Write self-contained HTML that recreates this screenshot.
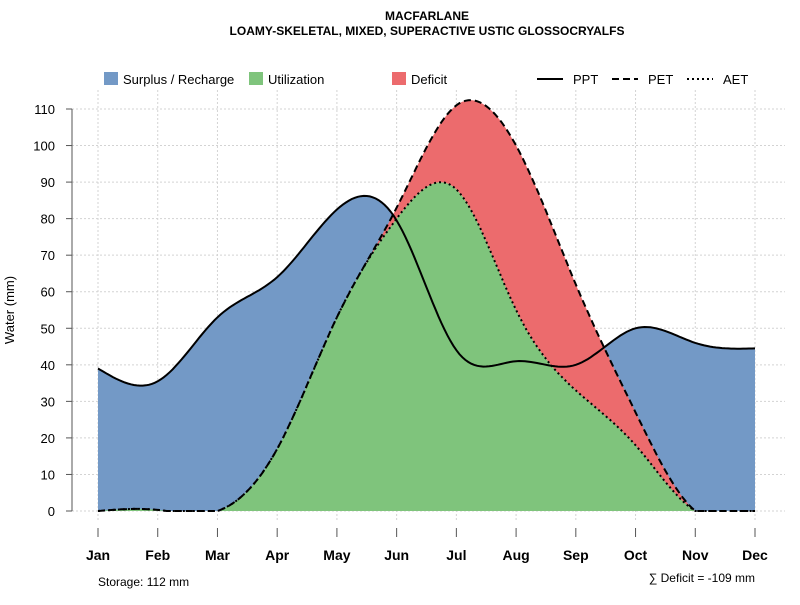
<!DOCTYPE html>
<html><head><meta charset="utf-8"><style>
body{margin:0;background:#fff;font-family:"Liberation Sans",sans-serif}
svg text{font-family:"Liberation Sans",sans-serif}
</style></head><body>
<svg id="c" width="800" height="600">
<text x="427" y="20" text-anchor="middle" font-size="12" font-weight="bold">MACFARLANE</text>
<text x="427" y="35" text-anchor="middle" font-size="12" font-weight="bold">LOAMY-SKELETAL, MIXED, SUPERACTIVE USTIC GLOSSOCRYALFS</text>
<g id="grid"></g><g id="areas"></g><g id="lines"></g><g id="axes"></g>
<g font-size="13">
<rect x="104" y="72" width="14" height="13" fill="#7399c6"/>
<text x="123" y="84">Surplus / Recharge</text>
<rect x="249" y="72" width="14" height="13" fill="#7fc47c"/>
<text x="268" y="84">Utilization</text>
<rect x="392" y="72" width="14" height="13" fill="#ec6b6d"/>
<text x="411" y="84">Deficit</text>
<line x1="537" y1="79" x2="563" y2="79" stroke="#000" stroke-width="2"/>
<text x="573" y="84">PPT</text>
<line x1="612" y1="79" x2="638" y2="79" stroke="#000" stroke-width="2" stroke-dasharray="7,4"/>
<text x="648" y="84">PET</text>
<line x1="687" y1="79" x2="713" y2="79" stroke="#000" stroke-width="2" stroke-dasharray="2,3"/>
<text x="723" y="84">AET</text>
</g>
<text x="98" y="586" font-size="12">Storage: 112 mm</text>
<text x="755" y="582" font-size="12" text-anchor="end">∑ Deficit = -109 mm</text>
<text transform="translate(14,310) rotate(-90)" text-anchor="middle" font-size="13">Water (mm)</text>
</svg>
<script>
const months=["Jan","Feb","Mar","Apr","May","Jun","Jul","Aug","Sep","Oct","Nov","Dec"];
const ppt=[39,35.5,53,64,82.5,79.5,44,41,40,50,46,44.5];
const pet=[0,0.3,0,17,53,83,111,100,62,27,0,0];
const aet=[0,0.3,0,17,53,80,88,55,33,18,0,0];
const yTicks=[0,10,20,30,40,50,60,70,80,90,100,110];
const NS="http://www.w3.org/2000/svg";
const X=i=>98+i*(755-98)/11, Y=v=>511-v*(402/110);
function el(t,a,p){const e=document.createElementNS(NS,t);for(const k in a)e.setAttribute(k,a[k]);document.getElementById(p).appendChild(e);return e;}
function samp(arr){const n=arr.length,S=20;
 const M=new Array(n).fill(0),c=new Array(n).fill(0),d=new Array(n).fill(0);
 for(let i=1;i<n-1;i++){const r=6*(arr[i+1]-2*arr[i]+arr[i-1]);const m=4-(i>1?c[i-1]:0);c[i]=1/m;d[i]=(r-(i>1?d[i-1]:0))/m;}
 for(let i=n-2;i>=1;i--)M[i]=d[i]-c[i]*M[i+1];
 const o=[];
 for(let i=0;i<n-1;i++)for(let s=0;s<S;s++){const t=s/S,a=1-t;
  const v=a*arr[i]+t*arr[i+1]+((a*a*a-a)*M[i]+(t*t*t-t)*M[i+1])/6;o.push([i+t,Math.max(v,0)]);}
 o.push([n-1,arr[n-1]]);return o;}
const sP=samp(ppt),sE=samp(pet),sA=samp(aet);
const pts=s=>s.map(p=>X(p[0]).toFixed(1)+","+Y(p[1]).toFixed(1));
yTicks.forEach(v=>{const g=el("line",{x1:72,x2:785,y1:Y(v),y2:Y(v),stroke:"#d3d3d3","stroke-dasharray":"2,2"},"grid");

const t=el("line",{x1:66,x2:72,y1:Y(v),y2:Y(v),stroke:"#555"},"axes");

const l=el("text",{x:55,y:Y(v)+5,"text-anchor":"end","font-size":13},"axes");l.textContent=v;
});
months.forEach((m,i)=>{const g=el("line",{x1:X(i),x2:X(i),y1:90,y2:520,stroke:"#d3d3d3","stroke-dasharray":"2,2"},"grid");

const t=el("line",{x1:X(i),x2:X(i),y1:528,y2:537,stroke:"#555"},"axes");

const l=el("text",{x:X(i),y:560,"text-anchor":"middle","font-size":14,"font-weight":"bold"},"axes");l.textContent=m;
});
const ax=el("line",{x1:72,x2:72,y1:Y(110),y2:511,stroke:"#555"},"axes");

const base=[X(11)+","+Y(0),X(0)+","+Y(0)];
const a1=el("polygon",{points:pts(sP).concat(base).join(" "),fill:"#7399c6"},"areas");

const a2=el("polygon",{points:pts(sA).concat(base).join(" "),fill:"#7fc47c"},"areas");

const a3=el("polygon",{points:pts(sE).concat(pts(sA).reverse()).join(" "),fill:"#ec6b6d"},"areas");

const l1=el("polyline",{points:pts(sP).join(" "),fill:"none",stroke:"#000","stroke-width":2},"lines");

const l2=el("polyline",{points:pts(sE).join(" "),fill:"none",stroke:"#000","stroke-width":2,"stroke-dasharray":"7,4"},"lines");

const l3=el("polyline",{points:pts(sA).join(" "),fill:"none",stroke:"#000","stroke-width":2,"stroke-dasharray":"2,3"},"lines");

</script>
</body></html>
